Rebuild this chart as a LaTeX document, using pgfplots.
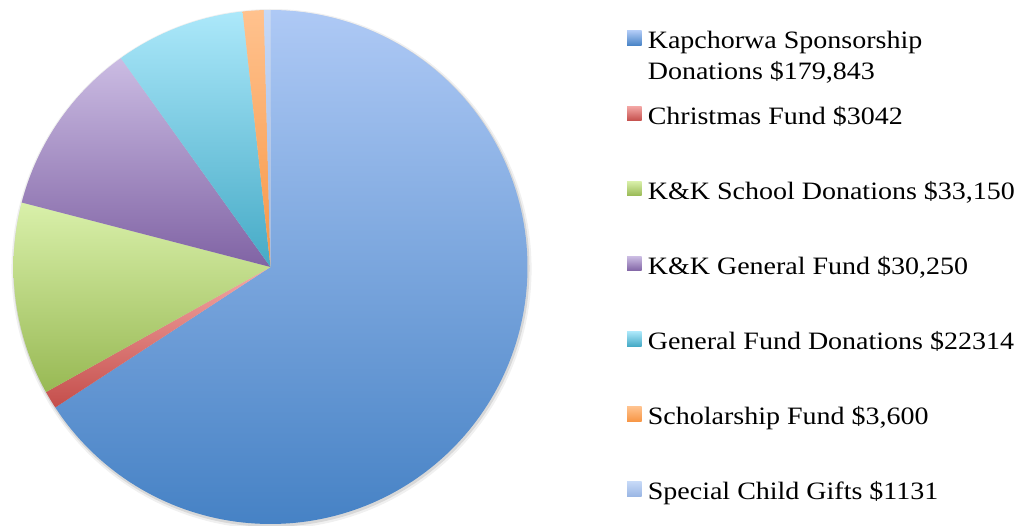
\documentclass[border=0pt]{standalone}
\usepackage{pgfplots}
\pgfplotsset{compat=1.18}
\usepackage{pgfplotstable}
\usepackage{fontspec}
\setmainfont{Liberation Serif}[FakeStretch=1.12]

\definecolor{kTop}{HTML}{AEC9F5}\definecolor{kBot}{HTML}{4682C5}
\definecolor{cTop}{HTML}{F4A8A6}\definecolor{cBot}{HTML}{C44E4B}
\definecolor{sTop}{HTML}{D9F0AA}\definecolor{sBot}{HTML}{98B954}
\definecolor{gTop}{HTML}{CBBCE3}\definecolor{gBot}{HTML}{8063A4}
\definecolor{fTop}{HTML}{ACE8FA}\definecolor{fBot}{HTML}{45AAC6}
\definecolor{oTop}{HTML}{FFC28E}\definecolor{oBot}{HTML}{F79646}
\definecolor{pTop}{HTML}{C6D9F7}\definecolor{pBot}{HTML}{9AB6E4}

\pgfplotstableread{
id value
1 179843
2 3042
3 33150
4 30250
5 22314
6 3600
7 1131
}\piedata

\begin{document}
\pgfplotstablegetelem{0}{value}\of\piedata \edef\vA{\pgfplotsretval}%
\pgfplotstablegetelem{1}{value}\of\piedata \edef\vB{\pgfplotsretval}%
\pgfplotstablegetelem{2}{value}\of\piedata \edef\vC{\pgfplotsretval}%
\pgfplotstablegetelem{3}{value}\of\piedata \edef\vD{\pgfplotsretval}%
\pgfplotstablegetelem{4}{value}\of\piedata \edef\vE{\pgfplotsretval}%
\pgfplotstablegetelem{5}{value}\of\piedata \edef\vF{\pgfplotsretval}%
\pgfplotstablegetelem{6}{value}\of\piedata \edef\vG{\pgfplotsretval}%
\edef\total{\fpeval{\vA+\vB+\vC+\vD+\vE+\vF+\vG}}%
\edef\aA{90}%
\edef\aB{\fpeval{\aA-360*\vA/\total}}%
\edef\aC{\fpeval{\aB-360*\vB/\total}}%
\edef\aD{\fpeval{\aC-360*\vC/\total}}%
\edef\aE{\fpeval{\aD-360*\vD/\total}}%
\edef\aF{\fpeval{\aE-360*\vE/\total}}%
\edef\aG{\fpeval{\aF-360*\vF/\total}}%
\edef\aH{\fpeval{\aG-360*\vG/\total}}%
\begin{tikzpicture}
\path[use as bounding box] (0,0) rectangle (765.75pt,393.75pt);
\begin{axis}[
  at={(202.875pt,193.5pt)}, anchor=center,
  scale only axis, width=385.5pt, height=385.5pt,
  xmin=-1, xmax=1, ymin=-1, ymax=1,
  hide axis, clip=false,
  legend style={draw=none, fill=none, at={(1.1936,0.9683)}, anchor=north west,
    inner sep=0pt, outer sep=0pt, row sep=35.84pt, column sep=2.6pt,
    font=\fontsize{18.75}{23}\selectfont,
    cells={anchor=base west, inner sep=0pt, text height=15pt, text depth=5pt}},
  legend image code/.code={\path[#1, draw=none] (0pt,2.5pt) rectangle (11pt,13.5pt);},
]
% soft shadow
\addplot[forget plot, draw=none, fill=black, fill opacity=0.06, domain=0:360, samples=180]
  ({1.012*cos(x)+0.004},{1.012*sin(x)-0.008});
\addplot[forget plot, draw=none, fill=black, fill opacity=0.10, domain=0:360, samples=180]
  ({1.005*cos(x)+0.003},{1.005*sin(x)-0.006});
% slices
\addplot[draw=none, top color=kTop, bottom color=kBot, domain=\aB:\aA, samples=160]
  ({cos(x)},{sin(x)}) -- (0,0) -- cycle;
\addlegendentry{{\begin{tabular}[t]{@{}l@{}}Kapchorwa Sponsorship\\Donations \$179,843\end{tabular}}}
\addplot[draw=none, top color=cTop, bottom color=cBot, domain=\aC:\aB, samples=10]
  ({cos(x)},{sin(x)}) -- (0,0) -- cycle;
\addlegendentry{Christmas Fund \$3042}
\addplot[draw=none, top color=sTop, bottom color=sBot, domain=\aD:\aC, samples=40]
  ({cos(x)},{sin(x)}) -- (0,0) -- cycle;
\addlegendentry{K\&K School Donations \$33,150}
\addplot[draw=none, top color=gTop, bottom color=gBot, domain=\aE:\aD, samples=40]
  ({cos(x)},{sin(x)}) -- (0,0) -- cycle;
\addlegendentry{K\&K General Fund \$30,250}
\addplot[draw=none, top color=fTop, bottom color=fBot, domain=\aF:\aE, samples=30]
  ({cos(x)},{sin(x)}) -- (0,0) -- cycle;
\addlegendentry{General Fund Donations \$22314}
\addplot[draw=none, top color=oTop, bottom color=oBot, domain=\aG:\aF, samples=10]
  ({cos(x)},{sin(x)}) -- (0,0) -- cycle;
\addlegendentry{Scholarship Fund \$3,600}
\addplot[draw=none, top color=pTop, bottom color=pBot, domain=\aH:\aG, samples=6]
  ({cos(x)},{sin(x)}) -- (0,0) -- cycle;
\addlegendentry{Special Child Gifts \$1131}
\end{axis}
\end{tikzpicture}
\end{document}
